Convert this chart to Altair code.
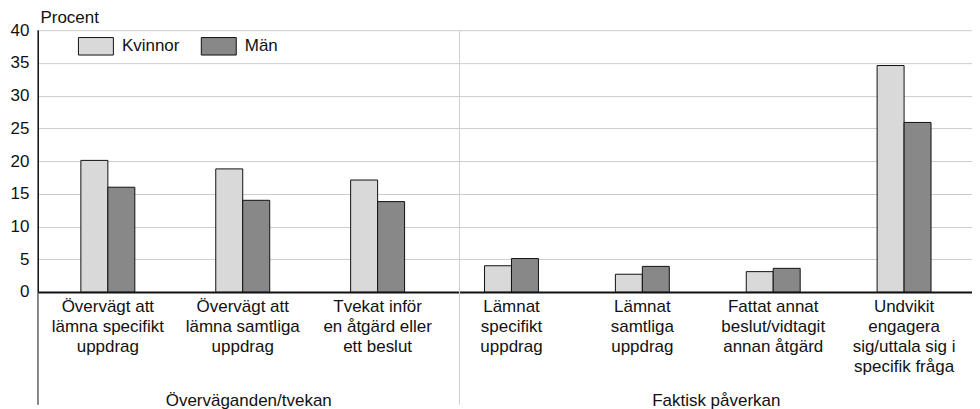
import altair as alt
import pandas as pd

groups = ["Överväganden/tvekan", "Faktisk påverkan"]
cats_left = [
    "Övervägt att\nlämna specifikt\nuppdrag",
    "Övervägt att\nlämna samtliga\nuppdrag",
    "Tvekat inför\nen åtgärd eller\nett beslut",
]
cats_right = [
    "Lämnat\nspecifikt\nuppdrag",
    "Lämnat\nsamtliga\nuppdrag",
    "Fattat annat\nbeslut/vidtagit\nannan åtgärd",
    "Undvikit\nengagera\nsig/uttala sig i\nspecifik fråga",
]
series = ["Kvinnor", "Män"]
kvinnor = [20.1, 18.8, 17.1, 4.0, 2.7, 3.1, 34.6]
man = [16.0, 14.0, 13.8, 5.1, 3.9, 3.6, 25.9]
colors = ["#d9d9d9", "#888888"]
yticks = [0, 5, 10, 15, 20, 25, 30, 35, 40]

rows = []
all_cats = cats_left + cats_right
for i, c in enumerate(all_cats):
    g = groups[0] if i < len(cats_left) else groups[1]
    rows.append({"group": g, "category": c, "sex": series[0], "value": kvinnor[i]})
    rows.append({"group": g, "category": c, "sex": series[1], "value": man[i]})
df = pd.DataFrame(rows)

FONT = "Liberation Sans"
FS = 17
H = 262
EXT = 113
TXT = "#111111"


def panel(group, cats, width, p_in, p_out, align, left):
    data = df[df["group"] == group]
    if left:
        yaxis = alt.Axis(values=yticks, grid=True, gridColor="#cccccc", gridWidth=1,
                         ticks=False, domain=True, domainColor=TXT, domainWidth=1,
                         labelPadding=9, labelFontSize=FS, labelColor=TXT,
                         title="Procent", titleAngle=0, titleAlign="left", titleX=2, titleY=-8,
                         titleBaseline="alphabetic", titleFontWeight="normal", titleFontSize=FS,
                         titleColor=TXT)
        legend = alt.Legend(orient="none", legendX=40, legendY=-2, direction="horizontal", title=None,
                            symbolType="M-1,-0.5H1V0.5H-1Z", symbolSize=1225,
                            symbolStrokeColor=TXT, symbolStrokeWidth=1, symbolOpacity=1,
                            labelFontSize=FS, labelColor=TXT, labelOffset=8, columnPadding=19)
    else:
        yaxis = alt.Axis(values=yticks, grid=True, gridColor="#cccccc", gridWidth=1,
                         ticks=False, domain=False, labels=False, title=None)
        legend = None
    bars = alt.Chart(data).mark_bar(stroke=TXT, strokeWidth=1, opacity=1).encode(
        x=alt.X("category:N", sort=cats,
                scale=alt.Scale(paddingInner=p_in, paddingOuter=p_out, align=align),
                axis=alt.Axis(title=group, labelExpr="split(datum.label, '\\n')", labelAngle=0,
                              ticks=False, domainColor=TXT, domainWidth=2, labelPadding=7,
                              labelLineHeight=20, labelLimit=0, labelFontSize=FS,
                              labelColor=TXT, labelBaseline="top",
                              titleY=114, titleBaseline="alphabetic", titleFontWeight="normal",
                              titleFontSize=FS, titleColor=TXT)),
        xOffset=alt.XOffset("sex:N", sort=series, scale=alt.Scale(paddingInner=0, paddingOuter=0)),
        y=alt.Y("value:Q", scale=alt.Scale(domain=[0, 40], nice=False), axis=yaxis),
        color=alt.Color("sex:N", sort=series, scale=alt.Scale(domain=series, range=colors),
                        legend=legend),
    )
    rule = alt.Chart(pd.DataFrame({"g": [group]})).mark_rule(
        color=TXT if left else "#cfcfcf", strokeWidth=1
    ).encode(x=alt.value(0), y=alt.value(0), y2=alt.value(H + EXT))
    return alt.layer(bars, rule).properties(width=width, height=H)


left = panel(groups[0], cats_left, 421, 0.6, 0.359, 0.443, True)
right = panel(groups[1], cats_right, 513, 0.588, 0.252, 0.379, False)

chart = alt.hconcat(left, right, spacing=0).resolve_scale(
    x="independent", xOffset="independent", y="shared", color="shared"
).resolve_axis(x="independent", y="independent").properties(
    padding={"left": 2, "top": 0, "right": 0, "bottom": 0}
).configure(
    font=FONT
).configure_view(stroke=None)

chart.save("out.html", embed_options={"renderer": "svg", "actions": False})
